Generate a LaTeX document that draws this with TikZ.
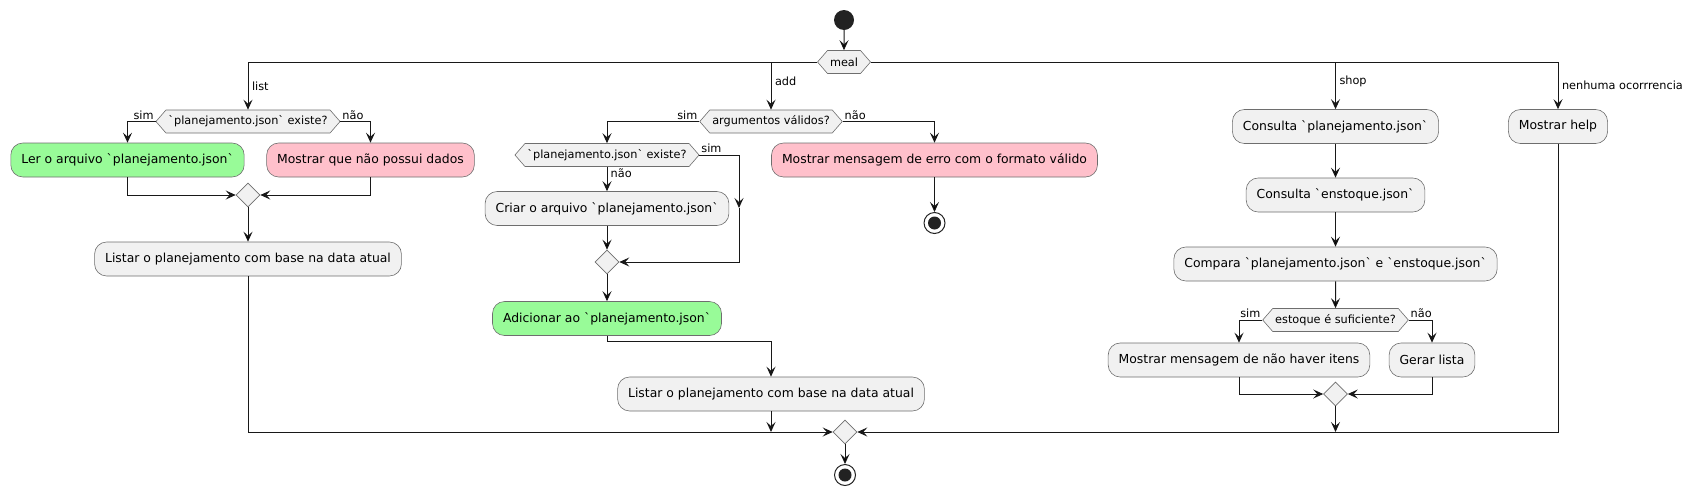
\documentclass[tikz,border=0pt]{standalone}
\usepackage{fontspec}
\newfontfamily\umlfont{DejaVu Sans}
\usetikzlibrary{arrows.meta,shapes.geometric,shapes.symbols}

\definecolor{umlline}{HTML}{181818}
\definecolor{umlborder}{HTML}{6E6E6E}
\definecolor{umlfill}{HTML}{F1F1F1}
\definecolor{umldark}{HTML}{222222}
\definecolor{umlgreen}{HTML}{98FB98}
\definecolor{umlpink}{HTML}{FFC0CB}

\newcommand{\umlbig}{\umlfont\fontsize{12.4}{15}\selectfont}
\newcommand{\umlsmall}{\umlfont\fontsize{11.3}{13}\selectfont}

\begin{document}
\begin{tikzpicture}[x=1pt, y=-1pt,
  >={Stealth[length=10pt,width=9pt,inset=4pt]},
  flow/.style={draw=umlline, line width=1pt},
  action/.style={draw=umlborder, line width=0.6pt, fill=umlfill, rounded corners=12pt,
    minimum height=34pt, inner xsep=10.5pt, inner ysep=0pt, font=\umlbig},
  decision/.style={signal, signal to=east and west, signal pointer angle=98,
    draw=umlborder, line width=0.6pt, fill=umlfill, minimum height=23pt,
    inner xsep=2.5pt, inner ysep=0pt, font=\umlsmall},
  merge/.style={diamond, draw=umlborder, line width=0.6pt, fill=umlfill,
    minimum size=24pt, inner sep=0pt},
  startdot/.style={circle, fill=umldark, minimum size=20pt, inner sep=0pt},
  stopdot/.style={circle, draw=umldark, line width=1pt, fill=white, minimum size=21pt,
    inner sep=0pt, path picture={\fill [umldark] (path picture bounding box.center) circle (6.5pt) ;}},
  lbl/.style={font=\umlsmall, inner sep=1.5pt}]

  \useasboundingbox (0,0) rectangle (1699,496) ;

  % column list
  \node (start) [startdot] at (844,20) {} ;
  \node (meal) [decision] at (844,62) {meal} ;
  \node (dlist) [decision] at (248,121.5) {`planejamento.json` existe?} ;
  \node (ler) [action, fill=umlgreen] at (127.5,160) {Ler o arquivo `planejamento.json`} ;
  \node (semdados) [action, fill=umlpink] at (370.5,160) {Mostrar que não possui dados} ;
  \node (merge1) [merge] at (248,195) {} ;
  \node (listar1) [action] at (248,259) {Listar o planejamento com base na data atual} ;

  % column add
  \node (dargs) [decision] at (771,121.5) {argumentos válidos?} ;
  \node (dexists) [decision] at (607,155) {`planejamento.json` existe?} ;
  \node (criar) [action] at (607,208.5) {Criar o arquivo `planejamento.json`} ;
  \node (merge2) [merge] at (607,262) {} ;
  \node (adic) [action, fill=umlgreen] at (607,318.5) {Adicionar ao `planejamento.json`} ;
  \node (listar2) [action] at (771,394) {Listar o planejamento com base na data atual} ;
  \node (erro) [action, fill=umlpink] at (934.5,160) {Mostrar mensagem de erro com o formato válido} ;
  \node (stop1) [stopdot] at (934.5,223) {} ;

  % column shop
  \node (consplan) [action] at (1335.5,126.5) {Consulta `planejamento.json`} ;
  \node (consest) [action] at (1335.5,195) {Consulta `enstoque.json`} ;
  \node (compara) [action] at (1335.5,264) {Compara `planejamento.json` e `enstoque.json`} ;
  \node (destoque) [decision] at (1335.5,320) {estoque é suficiente?} ;
  \node (semitens) [action] at (1239,360) {Mostrar mensagem de não haver itens} ;
  \node (gerar) [action] at (1432,360) {Gerar lista} ;
  \node (merge3) [merge] at (1335.5,394) {} ;

  % column help and end
  \node (help) [action] at (1558,126.5) {Mostrar help} ;
  \node (endmerge) [merge] at (845,432) {} ;
  \node (stop2) [stopdot] at (845,475) {} ;

  \coordinate (simdown) at (739,208) ;
  \coordinate (addend) at (listar2.south |- endmerge) ;
  \coordinate (shopend) at (merge3.south |- endmerge) ;

  \path [flow, ->] (start) edge (meal) ;

  \draw [flow, ->] (meal.west) -| node [lbl, pos=0.75, right, xshift=2pt] {list} (dlist.north) ;

  \draw [flow, ->] (meal.west) -| node [lbl, pos=0.7, right, xshift=2pt] {add} (dargs.north) ;

  \draw [flow, ->] (meal.east) -| node [lbl, pos=0.7, right, xshift=2pt] {shop} (consplan.north) ;

  \draw [flow, ->] (meal.east) -| node [lbl, pos=0.75, right, xshift=2pt] {nenhuma ocorrrencia} (help.north) ;

  \draw [flow, ->] (dlist.west) -| node [lbl, pos=0, above left] {sim} (ler.north) ;

  \draw [flow, ->] (dlist.east) -| node [lbl, pos=0, above right] {não} (semdados.north) ;

  \draw [flow, ->] (ler.south) |- (merge1.west) ;

  \draw [flow, ->] (semdados.south) |- (merge1.east) ;

  \path [flow, ->] (merge1) edge (listar1) ;

  \draw [flow, ->] (dargs.west) -| node [lbl, pos=0, above left] {sim} (dexists.north) ;

  \draw [flow, ->] (dargs.east) -| node [lbl, pos=0, above right] {não} (erro.north) ;

  \path [flow, ->] (erro) edge (stop1) ;

  \draw [flow, ->] (dexists.south) -- (criar.north) ;

  \node [lbl, anchor=north west, xshift=2pt] at (dexists.south) {não} ;

  \draw [flow, ->] (dexists.east) -| node [lbl, pos=0, above right] {sim} (simdown) ;

  \draw [flow, ->] (simdown) |- (merge2.east) ;

  \path [flow, ->] (criar) edge (merge2) ;

  \path [flow, ->] (merge2) edge (adic) ;

  \draw [flow, ->] (adic.south) -- ++(0,6) -| (listar2.north) ;

  \path [flow, ->] (consplan) edge (consest) ;

  \path [flow, ->] (consest) edge (compara) ;

  \path [flow, ->] (compara) edge (destoque) ;

  \draw [flow, ->] (destoque.west) -| node [lbl, pos=0, above left] {sim} (semitens.north) ;

  \draw [flow, ->] (destoque.east) -| node [lbl, pos=0, above right] {não} (gerar.north) ;

  \draw [flow, ->] (semitens.south) |- (merge3.west) ;

  \draw [flow, ->] (gerar.south) |- (merge3.east) ;

  \draw [flow, ->] (listar1.south) |- (endmerge.west) ;

  \draw [flow, ->] (help.south) |- (endmerge.east) ;

  \draw [flow, ->] (listar2.south) -- (addend) ;

  \draw [flow, ->] (merge3.south) -- (shopend) ;

  \path [flow, ->] (endmerge) edge (stop2) ;

\end{tikzpicture}
\end{document}
